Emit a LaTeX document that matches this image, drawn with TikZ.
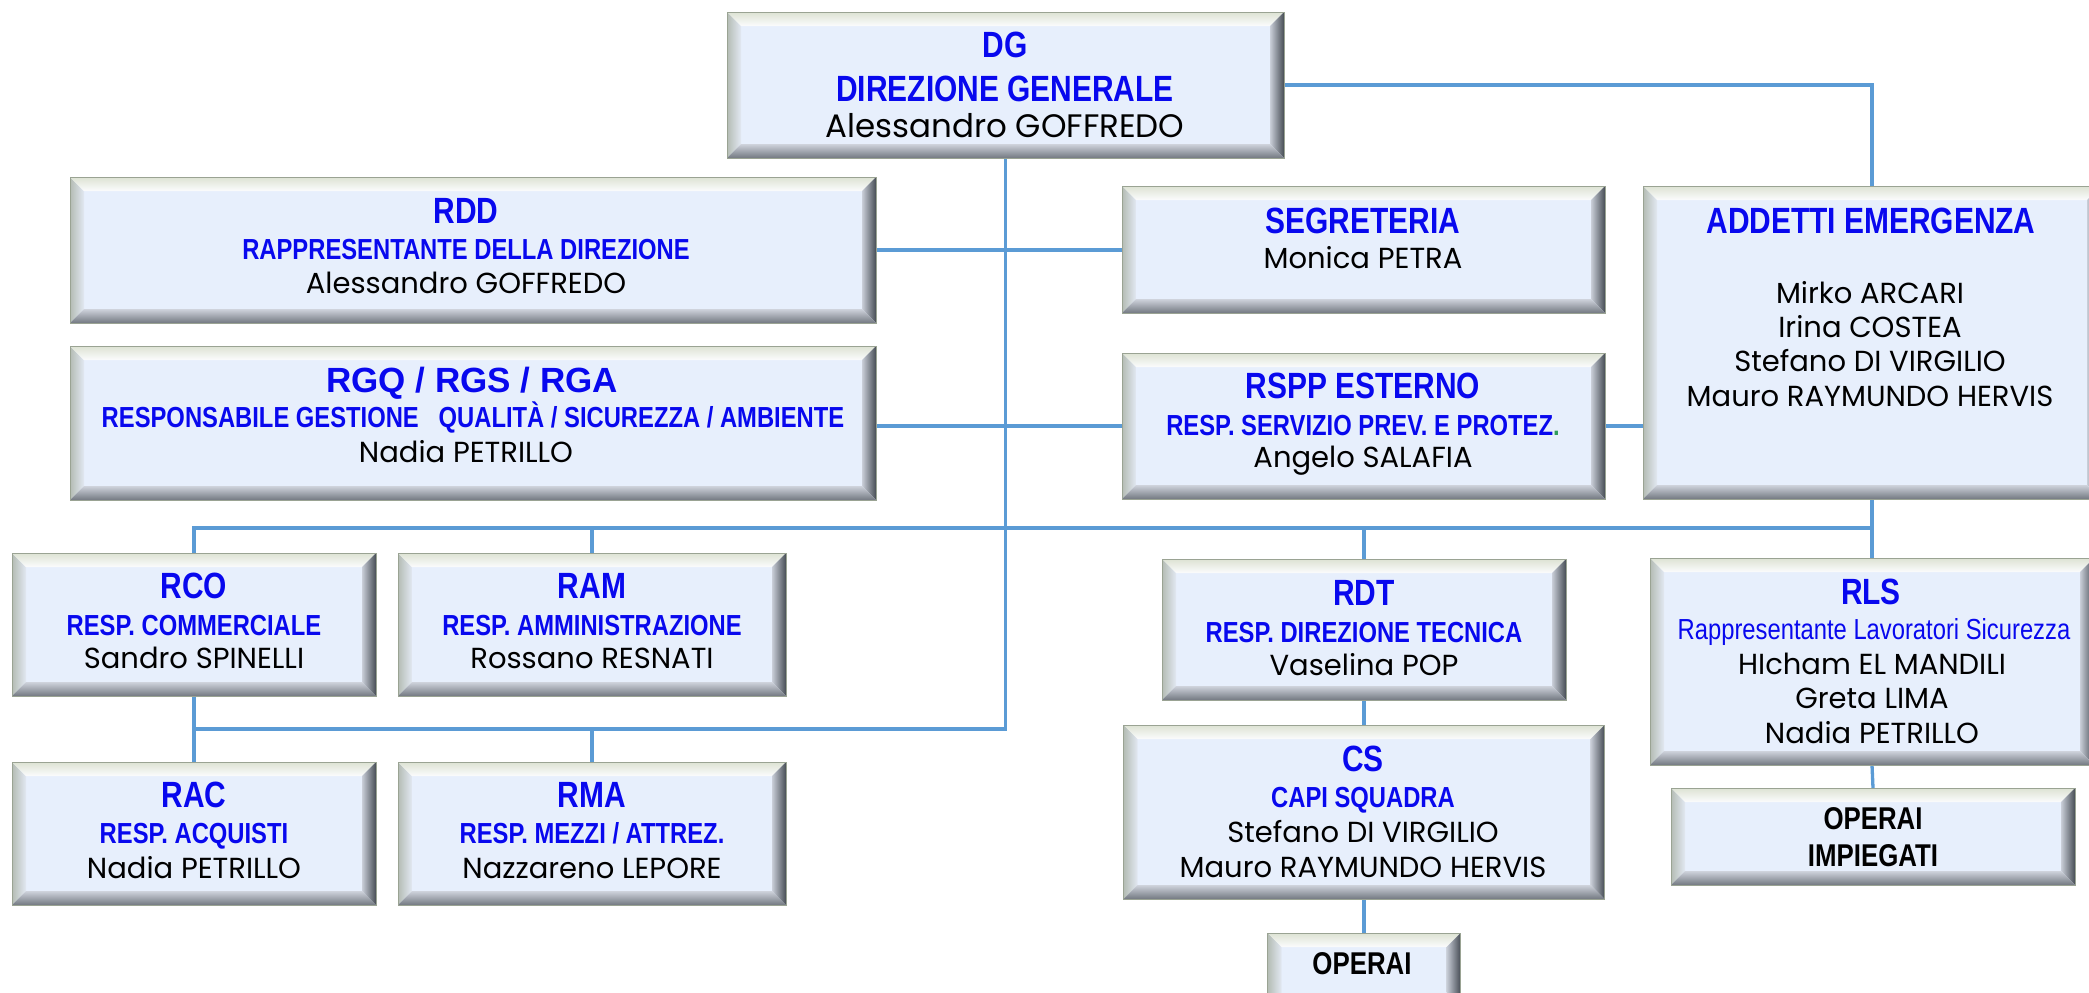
\documentclass[tikz,border=0pt]{standalone}
\usepackage{fontspec}
\usetikzlibrary{backgrounds}
\newfontfamily\narf{Liberation Sans}[FakeStretch=0.82]
\newfontfamily\arf{Liberation Sans}
\newfontfamily\popf{Poppins}
\definecolor{hblue}{RGB}{8,8,238}
\definecolor{conn}{HTML}{5B9BD5}
\definecolor{boxfill}{HTML}{E7EFFC}
\definecolor{bevline}{HTML}{9AA393}
\definecolor{lA}{HTML}{B4BCB4}\definecolor{lB}{HTML}{E2E8F2}
\definecolor{tA}{HTML}{DDE2D3}\definecolor{tB}{HTML}{FBFCFD}
\definecolor{rA}{HTML}{C9CED8}\definecolor{rB}{HTML}{474D55}
\definecolor{bA}{HTML}{CFD3DC}\definecolor{bB}{HTML}{737981}
\definecolor{pgreen}{HTML}{2E9B5A}
\newcommand\HD{\narf\bfseries\fontsize{36.5}{40}\selectfont\color{hblue}}
\newcommand\HDW{\arf\bfseries\fontsize{35}{40}\selectfont\color{hblue}}
\newcommand\SB{\narf\bfseries\fontsize{29}{32}\selectfont\color{hblue}}
\newcommand\SBR{\narf\fontsize{29}{32}\selectfont\color{hblue}}
\newcommand\NM{\popf\fontsize{29}{32}\selectfont\color{black}}
\newcommand\NMB{\popf\fontsize{32.5}{36}\selectfont\color{black}}
\newcommand\OPF{\narf\bfseries\fontsize{31.5}{34}\selectfont\color{black}}
\newcommand\txtline[4]{\node[txt] (#1) at (#2,#3) {#4};}
\tikzset{
  txt/.style={anchor=base, inner sep=0pt, outer sep=0pt},
  bev/.style={fill=boxfill, draw=bevline, line width=1pt, inner sep=0pt, outer sep=0pt,
    path picture={
      \path (path picture bounding box.north west) coordinate (pNW)
            (path picture bounding box.north east) coordinate (pNE)
            (path picture bounding box.south west) coordinate (pSW)
            (path picture bounding box.south east) coordinate (pSE);
      \path (pNW) ++(14pt,-14pt) coordinate (iNW)
            (pNE) ++(-14pt,-14pt) coordinate (iNE)
            (pSW) ++(14pt,14pt) coordinate (iSW)
            (pSE) ++(-14pt,14pt) coordinate (iSE);
      \shade[left color=lA, right color=lB] (pNW) -- (iNW) -- (iSW) -- (pSW) -- cycle;
      \shade[top color=tA, bottom color=tB] (pNW) -- (pNE) -- (iNE) -- (iNW) -- cycle;
      \shade[left color=rA, right color=rB] (pNE) -- (pSE) -- (iSE) -- (iNE) -- cycle;
      \shade[top color=bA, bottom color=bB] (iSW) -- (iSE) -- (pSE) -- (pSW) -- cycle;
    }},
  conline/.style={draw=conn, line width=3.3pt}
}
\begin{document}
\begin{tikzpicture}[x=1pt,y=-1pt]
\useasboundingbox (0,0) rectangle (2089,993);
\clip (0,0) rectangle (2089,993);
% boxes
\node[bev, minimum width=557pt, minimum height=146pt] (dg) at (1005.5,85) {};
\node[bev, minimum width=806pt, minimum height=146pt] (rdd) at (473,250) {};
\node[bev, minimum width=806pt, minimum height=154pt] (rgq) at (473,423) {};
\node[bev, minimum width=483pt, minimum height=127pt] (seg) at (1363.5,249.5) {};
\node[bev, minimum width=483pt, minimum height=146pt] (rspp) at (1363.5,426) {};
\node[bev, minimum width=458pt, minimum height=313pt] (add) at (1872,342.5) {};
\node[bev, minimum width=364pt, minimum height=143pt] (rco) at (194,624.5) {};
\node[bev, minimum width=388pt, minimum height=143pt] (ram) at (592,624.5) {};
\node[bev, minimum width=364pt, minimum height=143pt] (rac) at (194,833.5) {};
\node[bev, minimum width=388pt, minimum height=143pt] (rma) at (592,833.5) {};
\node[bev, minimum width=404pt, minimum height=141pt] (rdt) at (1364,629.5) {};
\node[bev, minimum width=481pt, minimum height=174pt] (cs) at (1364,812) {};
\node[bev, minimum width=193pt, minimum height=77pt] (op) at (1364,971.5) {};
\node[bev, minimum width=444pt, minimum height=207pt] (rls) at (1872,661.5) {};
\node[bev, minimum width=404pt, minimum height=97pt] (op2) at (1873,836.5) {};
% texts
\txtline{dg1}{1005}{57}{\HD DG}
\txtline{dg2}{1005}{101}{\HD DIREZIONE GENERALE}
\txtline{dg3}{1005}{137}{\NMB Alessandro GOFFREDO}
\txtline{rdd1}{466}{223}{\HD RDD}
\txtline{rdd2}{466}{259}{\SB RAPPRESENTANTE DELLA DIREZIONE}
\txtline{rdd3}{466}{293}{\NM Alessandro GOFFREDO}
\txtline{rgq1}{472}{392}{\HDW RGQ / RGS / RGA}
\txtline{rgq2}{473}{427}{\SB RESPONSABILE GESTIONE\ \ \ QUALITÀ / SICUREZZA / AMBIENTE}
\txtline{rgq3}{466}{462}{\NM Nadia PETRILLO}
\txtline{seg1}{1363}{233}{\HD SEGRETERIA}
\txtline{seg2}{1363}{268}{\NM Monica PETRA}
\txtline{rspp1}{1363}{398}{\HD RSPP ESTERNO}
\txtline{rspp2}{1363}{435}{\SB RESP. SERVIZIO PREV. E PROTEZ{\color{pgreen}.}}
\txtline{rspp3}{1363}{467}{\NM Angelo SALAFIA}
\txtline{add1}{1871}{233}{\HD ADDETTI EMERGENZA}
\txtline{add2}{1870}{303}{\NM Mirko ARCARI}
\txtline{add3}{1870}{337}{\NM Irina COSTEA}
\txtline{add4}{1870}{371}{\NM Stefano DI VIRGILIO}
\txtline{add5}{1870}{406}{\NM Mauro RAYMUNDO HERVIS}
\txtline{rco1}{194}{598}{\HD RCO}
\txtline{rco2}{194}{635}{\SB RESP. COMMERCIALE}
\txtline{rco3}{194}{668}{\NM Sandro SPINELLI}
\txtline{ram1}{592}{598}{\HD RAM}
\txtline{ram2}{592}{635}{\SB RESP. AMMINISTRAZIONE}
\txtline{ram3}{592}{668}{\NM Rossano RESNATI}
\txtline{rac1}{194}{807}{\HD RAC}
\txtline{rac2}{194}{843}{\SB RESP. ACQUISTI}
\txtline{rac3}{194}{878}{\NM Nadia PETRILLO}
\txtline{rma1}{592}{807}{\HD RMA}
\txtline{rma2}{592}{843}{\SB RESP. MEZZI / ATTREZ.}
\txtline{rma3}{592}{878}{\NM Nazzareno LEPORE}
\txtline{rdt1}{1364}{605}{\HD RDT}
\txtline{rdt2}{1364}{642}{\SB RESP. DIREZIONE TECNICA}
\txtline{rdt3}{1364}{675}{\NM Vaselina POP}
\txtline{cs1}{1363}{771}{\HD CS}
\txtline{cs2}{1363}{807}{\SB CAPI SQUADRA}
\txtline{cs3}{1363}{842}{\NM Stefano DI VIRGILIO}
\txtline{cs4}{1363}{877}{\NM Mauro RAYMUNDO HERVIS}
\txtline{op1}{1362}{974}{\OPF OPERAI}
\txtline{rls1}{1871}{604}{\HD RLS}
\txtline{rls2}{1874}{639}{\SBR Rappresentante Lavoratori Sicurezza}
\txtline{rls3}{1872}{674}{\NM HIcham EL MANDILI}
\txtline{rls4}{1872}{708}{\NM Greta LIMA}
\txtline{rls5}{1872}{743}{\NM Nadia PETRILLO}
\txtline{opa}{1873}{829}{\OPF OPERAI}
\txtline{opb}{1873}{866}{\OPF IMPIEGATI}
% connectors
\coordinate (bus) at (0,528);
\coordinate (lbus) at (0,729);
\begin{pgfonlayer}{background}
\draw[conline] (dg.south) |- (lbus -| rco.south);
\draw[conline] (rco.south) -- (rac.north);
\draw[conline] (rma.north) -- (lbus -| rma.north);
\draw[conline] (rco.north) |- (bus -| add.south);
\draw[conline] (add.south) -- (rls.north);
\draw[conline] (ram.north) -- (bus -| ram.north);
\draw[conline] (rdt.north) -- (bus -| rdt.north);
\draw[conline] (dg.east) -| (add.north);
\draw[conline] (rdd.east) -- (rdd.east -| seg.west);
\draw[conline] (rspp.west -| rgq.east) -- (rspp.west);
\draw[conline] (rspp.east) -- (rspp.east -| add.west);
\draw[conline] (rdt.south) -- (cs.north);
\draw[conline] (cs.south) -- (op.north);
\draw[conline] (rls.south) -- (op2.north);
\end{pgfonlayer}
\end{tikzpicture}
\end{document}
